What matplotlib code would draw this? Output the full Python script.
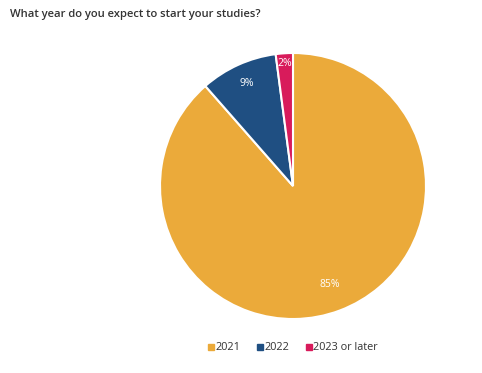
import numpy as np
import matplotlib
matplotlib.use("Agg")
import matplotlib.pyplot as plt
from matplotlib.lines import Line2D

# data
years = ["2021", "2022", "2023 or later"]
shares = [85, 9, 2]
colors = ["#EBAA3A", "#1F4F82", "#D81B5B"]
label_dist = [0.79, 0.85, 0.92]

plt.rcParams["font.family"] = ["Open Sans", "DejaVu Sans"]

fig = plt.figure(figsize=(4.82, 3.73), dpi=100)
fig.text(10 / 482, 1 - 15 / 373, "What year do you expect to start your studies?",
         fontsize=8.1, fontweight="semibold", color="#333333", va="center", ha="left")

ax = fig.add_axes([160 / 482, (373 - 186 - 133) / 373, 266 / 482, 266 / 373])
wedges, _ = ax.pie(shares, colors=colors, startangle=90, counterclock=False,
                   radius=1, wedgeprops=dict(edgecolor="white", linewidth=1.5))
ax.set_xlim(-1, 1)
ax.set_ylim(-1, 1)
ax.set_aspect("equal")
ax.axis("off")

for w, v, d in zip(wedges, shares, label_dist):
    ang = np.deg2rad((w.theta1 + w.theta2) / 2)
    ax.text(d * np.cos(ang), d * np.sin(ang), f"{v}%", color="white",
            fontsize=7.5, ha="center", va="center")

handles = [Line2D([], [], marker="s", linestyle="none", markersize=5,
                  color=c) for c in colors]
fig.legend(handles, years, loc="center", bbox_to_anchor=(293 / 482, 1 - 348 / 373),
           ncol=3, frameon=False, fontsize=7.8, handlelength=0.6,
           handletextpad=0.1, columnspacing=1.5, labelcolor="#333333")

fig.savefig("out.png", dpi=100)
